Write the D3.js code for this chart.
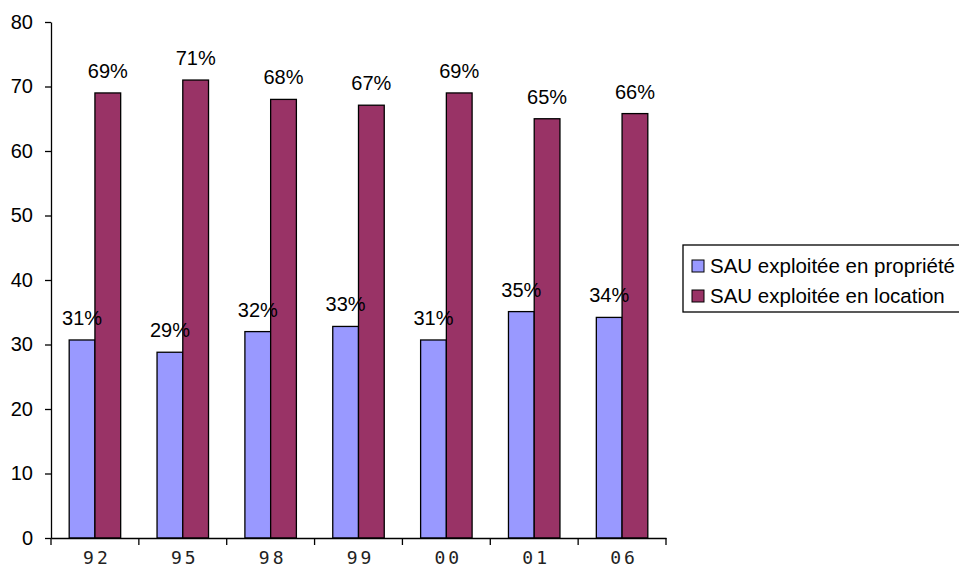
<!DOCTYPE html>
<html>
<head>
<meta charset="utf-8">
<script src="https://cdn.jsdelivr.net/npm/d3@7"></script>
<style>
  body { margin: 0; background: #fff; }
  svg { display: block; }
</style>
</head>
<body>
<script>
const width = 959, height = 567;

// data
const years = ["92", "95", "98", "99", "00", "01", "06"];
const enPropriete = [30.7, 28.8, 32, 32.8, 30.7, 35.1, 34.2];
const enLocation = [69, 71, 68, 67.1, 69, 65, 65.8];
const labelsPropriete = ["31%", "29%", "32%", "33%", "31%", "35%", "34%"];
const labelsLocation = ["69%", "71%", "68%", "67%", "69%", "65%", "66%"];
const seriesNames = ["SAU exploitée en propriété", "SAU exploitée en location"];
const colors = ["#9999ff", "#993366"];
const yTicks = [0, 10, 20, 30, 40, 50, 60, 70, 80];

const margin = {left: 51, top: 22, right: 293, bottom: 29};
const font = "Liberation Sans, Arial, sans-serif";

const svg = d3.select("body").append("svg")
    .attr("width", width)
    .attr("height", height);

const x = d3.scaleBand()
    .domain(years)
    .range([margin.left, width - margin.right])
    .padding(0);

const y = d3.scaleLinear()
    .domain([0, 80])
    .range([height - margin.bottom, margin.top]);

const barW = x.bandwidth() * 0.293;
const xs = d3.scaleBand().domain([0, 1])
    .range([0, barW * 2]);

const rows = years.map((yr, i) => ({
  year: yr,
  vals: [enPropriete[i], enLocation[i]],
  labels: [labelsPropriete[i], labelsLocation[i]]
}));

const groups = svg.append("g").selectAll("g")
    .data(rows)
    .enter().append("g")
    .attr("transform", d => "translate(" + (x(d.year) + (x.bandwidth() - barW * 2) / 2) + ",0)");

groups.selectAll("rect")
    .data(d => d.vals.map((v, k) => ({k: k, v: v})))
    .enter().append("rect")
    .attr("x", d => xs(d.k))
    .attr("y", d => y(d.v))
    .attr("width", xs.bandwidth())
    .attr("height", d => y(0) - y(d.v))
    .style("fill", d => colors[d.k])
    .style("stroke", "#000")
    .style("stroke-width", 1.3);

groups.selectAll("text")
    .data(d => d.vals.map((v, k) => ({k: k, v: v, t: d.labels[k]})))
    .enter().append("text")
    .attr("x", d => xs(d.k) + xs.bandwidth() / 2)
    .attr("y", d => y(d.v) - 15)
    .attr("text-anchor", "middle")
    .style("font-family", font)
    .style("font-size", "20px")
    .style("fill", "#000")
    .text(d => d.t);

// y axis
const yAxis = svg.append("g")
    .attr("transform", "translate(" + margin.left + ",0)")
    .call(d3.axisLeft(y).tickValues(yTicks).tickSize(6).tickPadding(12).tickSizeOuter(0));
yAxis.select(".domain").attr("stroke", "#000").attr("stroke-width", 1.3);
yAxis.selectAll(".tick line").attr("stroke", "#000").attr("stroke-width", 1.3);
yAxis.selectAll("text")
    .style("font-family", font)
    .style("font-size", "20px")
    .style("fill", "#000");

// x axis
const xAxis = svg.append("g")
    .attr("transform", "translate(0," + y(0) + ")")
    .call(d3.axisBottom(x).tickSize(0).tickPadding(13));
xAxis.select(".domain").attr("stroke", "#000").attr("stroke-width", 1.3);
xAxis.selectAll("text")
    .style("font-family", "DejaVu Sans Mono, monospace")
    .style("font-size", "18px")
    .style("letter-spacing", "3px")
    .attr("dx", "2px")
    .style("fill", "#222");
// ticks between categories
const bounds = years.map(d => x(d)).concat([x(years[years.length - 1]) + x.bandwidth()]);
xAxis.selectAll(".sep")
    .data(bounds)
    .enter().append("line")
    .attr("class", "sep")
    .attr("x1", d => d).attr("x2", d => d)
    .attr("y1", 0).attr("y2", 7)
    .attr("stroke", "#000")
    .attr("stroke-width", 1.3);

// legend
const legend = svg.append("g")
    .attr("transform", "translate(683, 245)");
legend.append("rect")
    .attr("x", 0).attr("y", 0)
    .attr("width", 290).attr("height", 67)
    .style("fill", "#fff")
    .style("stroke", "#000")
    .style("stroke-width", 1.3);
const items = legend.selectAll(".item")
    .data(seriesNames)
    .enter().append("g")
    .attr("class", "item")
    .attr("transform", (d, i) => "translate(0," + (21 + i * 30) + ")");
items.append("rect")
    .attr("x", 9).attr("y", -6)
    .attr("width", 12).attr("height", 12)
    .style("fill", (d, i) => colors[i])
    .style("stroke", "#000")
    .style("stroke-width", 1);
items.append("text")
    .attr("x", 27)
    .attr("y", 7)
    .style("font-family", font)
    .style("font-size", "20.5px")
    .style("fill", "#000")
    .text(d => d);
</script>
</body>
</html>
